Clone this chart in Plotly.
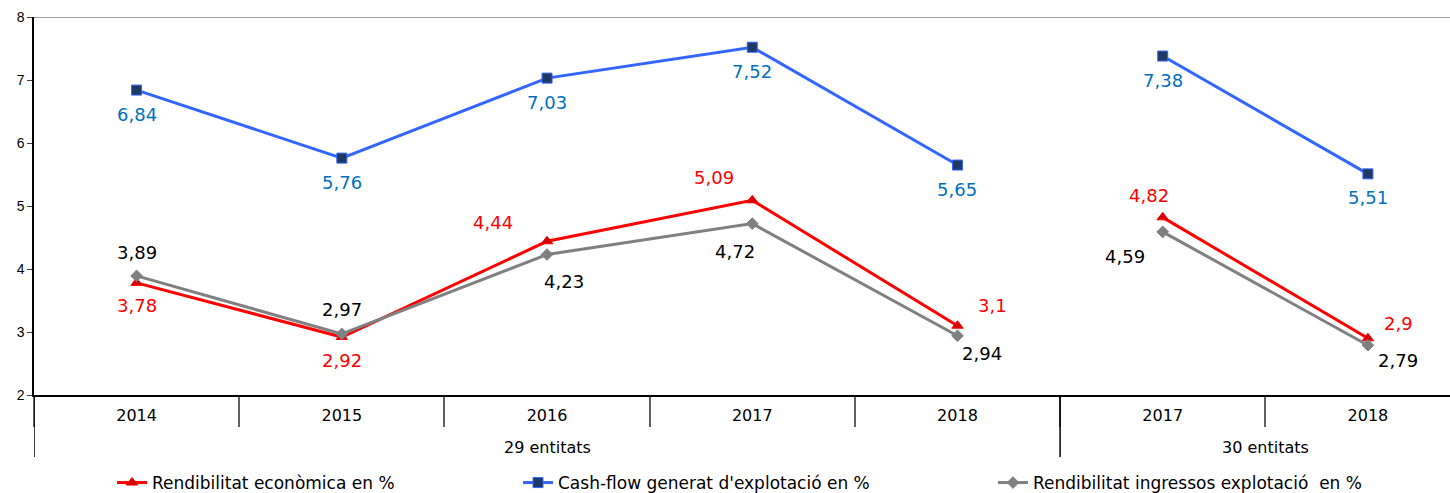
import plotly.graph_objects as go

# ---- data ----
groups = ["29 entitats"] * 5 + ["30 entitats"] * 2
years = ["2014", "2015", "2016", "2017", "2018", "2017", "2018"]
rend_economica = [3.78, 2.92, 4.44, 5.09, 3.10, 4.82, 2.90]
cash_flow = [6.84, 5.76, 7.03, 7.52, 5.65, 7.38, 5.51]
rend_ingressos = [3.89, 2.97, 4.23, 4.72, 2.94, 4.59, 2.79]
label_text_econ = ["3,78", "2,92", "4,44", "5,09", "3,1", "4,82", "2,9"]
label_text_cash = ["6,84", "5,76", "7,03", "7,52", "5,65", "7,38", "5,51"]
label_text_ingr = ["3,89", "2,97", "4,23", "4,72", "2,94", "4,59", "2,79"]
names = ["Rendibilitat econòmica en %", "Cash-flow generat d'explotació en %",
         "Rendibilitat ingressos explotació  en %"]

# unique category keys (group + year), shown with the year as tick text
keys = [f"{g} · {y}" for g, y in zip(groups, years)]
group_names = list(dict.fromkeys(groups))

# ---- styles ----
FONT = "DejaVu Sans"
series = [
    dict(y=rend_economica, txt=label_text_econ, name=names[0], line="#FF0000",
         mfill="#D00000", mline="#FF0000", symbol="triangle-up", msize=10, tcol="#FF0000",
         legend="legend",
         offs=[(0, -23), (0, -23), (-54, 19), (-38, 23), (35, 20), (-14, 22), (31, 15)]),
    dict(y=cash_flow, txt=label_text_cash, name=names[1], line="#3366FF",
         mfill="#1F3864", mline="#3366FF", symbol="square", msize=10, tcol="#0070C0",
         legend="legend2",
         offs=[(0, -24)] * 7),
    dict(y=rend_ingressos, txt=label_text_ingr, name=names[2], line="#808080",
         mfill="#808080", mline="#808080", symbol="diamond", msize=9, tcol="#000000",
         legend="legend3",
         offs=[(0, 23), (0, 24), (17, -27), (-17, -28), (25, -18), (-38, -25), (30, -15)]),
]

W, H = 1450, 493
L, R, T, B = 34, 0, 17, 98
pw, ph = W - L - R, H - T - B


def px_x(px):
    return (px - L) / pw


def px_y(py):
    return (H - B - py) / ph


fig = go.Figure()

# split each series where the group changes so the lines break between groups
bounds = [i for i in range(1, len(groups)) if groups[i] != groups[i - 1]]
segments = list(zip([0] + bounds, bounds + [len(groups)]))

for s in series:
    for k, (a, b) in enumerate(segments):
        fig.add_trace(go.Scatter(
            x=keys[a:b], y=s["y"][a:b], mode="lines+markers",
            name=s["name"], legendgroup=s["name"], showlegend=(k == 0), legend=s["legend"],
            line=dict(color=s["line"], width=3),
            marker=dict(symbol=s["symbol"], size=s["msize"], color=s["mfill"],
                        line=dict(color=s["mline"], width=1)),
            hoverinfo="skip"))
    for i, (v, t) in enumerate(zip(s["y"], s["txt"])):
        dx, dy = s["offs"][i]
        fig.add_annotation(x=keys[i], y=v, text=t, showarrow=False, xshift=dx, yshift=dy,
                           font=dict(family=FONT, size=18, color=s["tcol"]))

# group labels (outer category level) and group dividers
for g in group_names:
    idx = [i for i, gg in enumerate(groups) if gg == g]
    fig.add_annotation(x=sum(idx) / len(idx), y=px_y(447), xref="x", yref="paper",
                       text=g, showarrow=False, yanchor="middle",
                       font=dict(family=FONT, size=16, color="#000000"))
for i in [0] + bounds:
    fig.add_shape(type="line", xref="x", yref="paper", x0=i - 0.5, x1=i - 0.5,
                  y0=0, y1=px_y(457), line=dict(color="#000000", width=1.5))

# top border line
fig.add_shape(type="line", xref="paper", yref="y", x0=0, x1=1, y0=8, y1=8,
              line=dict(color="#808080", width=1.5))

legend_common = dict(orientation="h", yanchor="middle", xanchor="left",
                     font=dict(family=FONT, size=17, color="#000000"),
                     bgcolor="rgba(0,0,0,0)", itemwidth=30)

fig.update_layout(
    width=W, height=H,
    margin=dict(l=L, r=R, t=T, b=B, autoexpand=False),
    plot_bgcolor="white", paper_bgcolor="white",
    xaxis=dict(type="category", categoryorder="array", categoryarray=keys,
               tickmode="array", tickvals=keys, ticktext=years,
               range=[-0.5, 6.4], showgrid=False, automargin=False,
               showline=True, linecolor="#000000", linewidth=1.5,
               ticks="outside", tickson="boundaries", ticklen=30, tickcolor="#606060",
               tickwidth=1.5, ticklabelstandoff=5,
               tickfont=dict(family=FONT, size=16, color="#000000")),
    yaxis=dict(range=[2, 8], dtick=1, showgrid=False, zeroline=False, automargin=False,
               showline=True, linecolor="#000000", linewidth=1.5,
               ticks="outside", ticklen=5, tickcolor="#404040",
               tickfont=dict(family="Liberation Sans", size=14, color="#000000")),
    legend=dict(x=px_x(112), y=px_y(483), **legend_common),
    legend2=dict(x=px_x(518), y=px_y(483), **legend_common),
    legend3=dict(x=px_x(993), y=px_y(483), **legend_common),
)

fig.write_html("out.html", config={"displayModeBar": False},
               post_script="document.body.style.margin='0';document.body.style.overflow='hidden';")
